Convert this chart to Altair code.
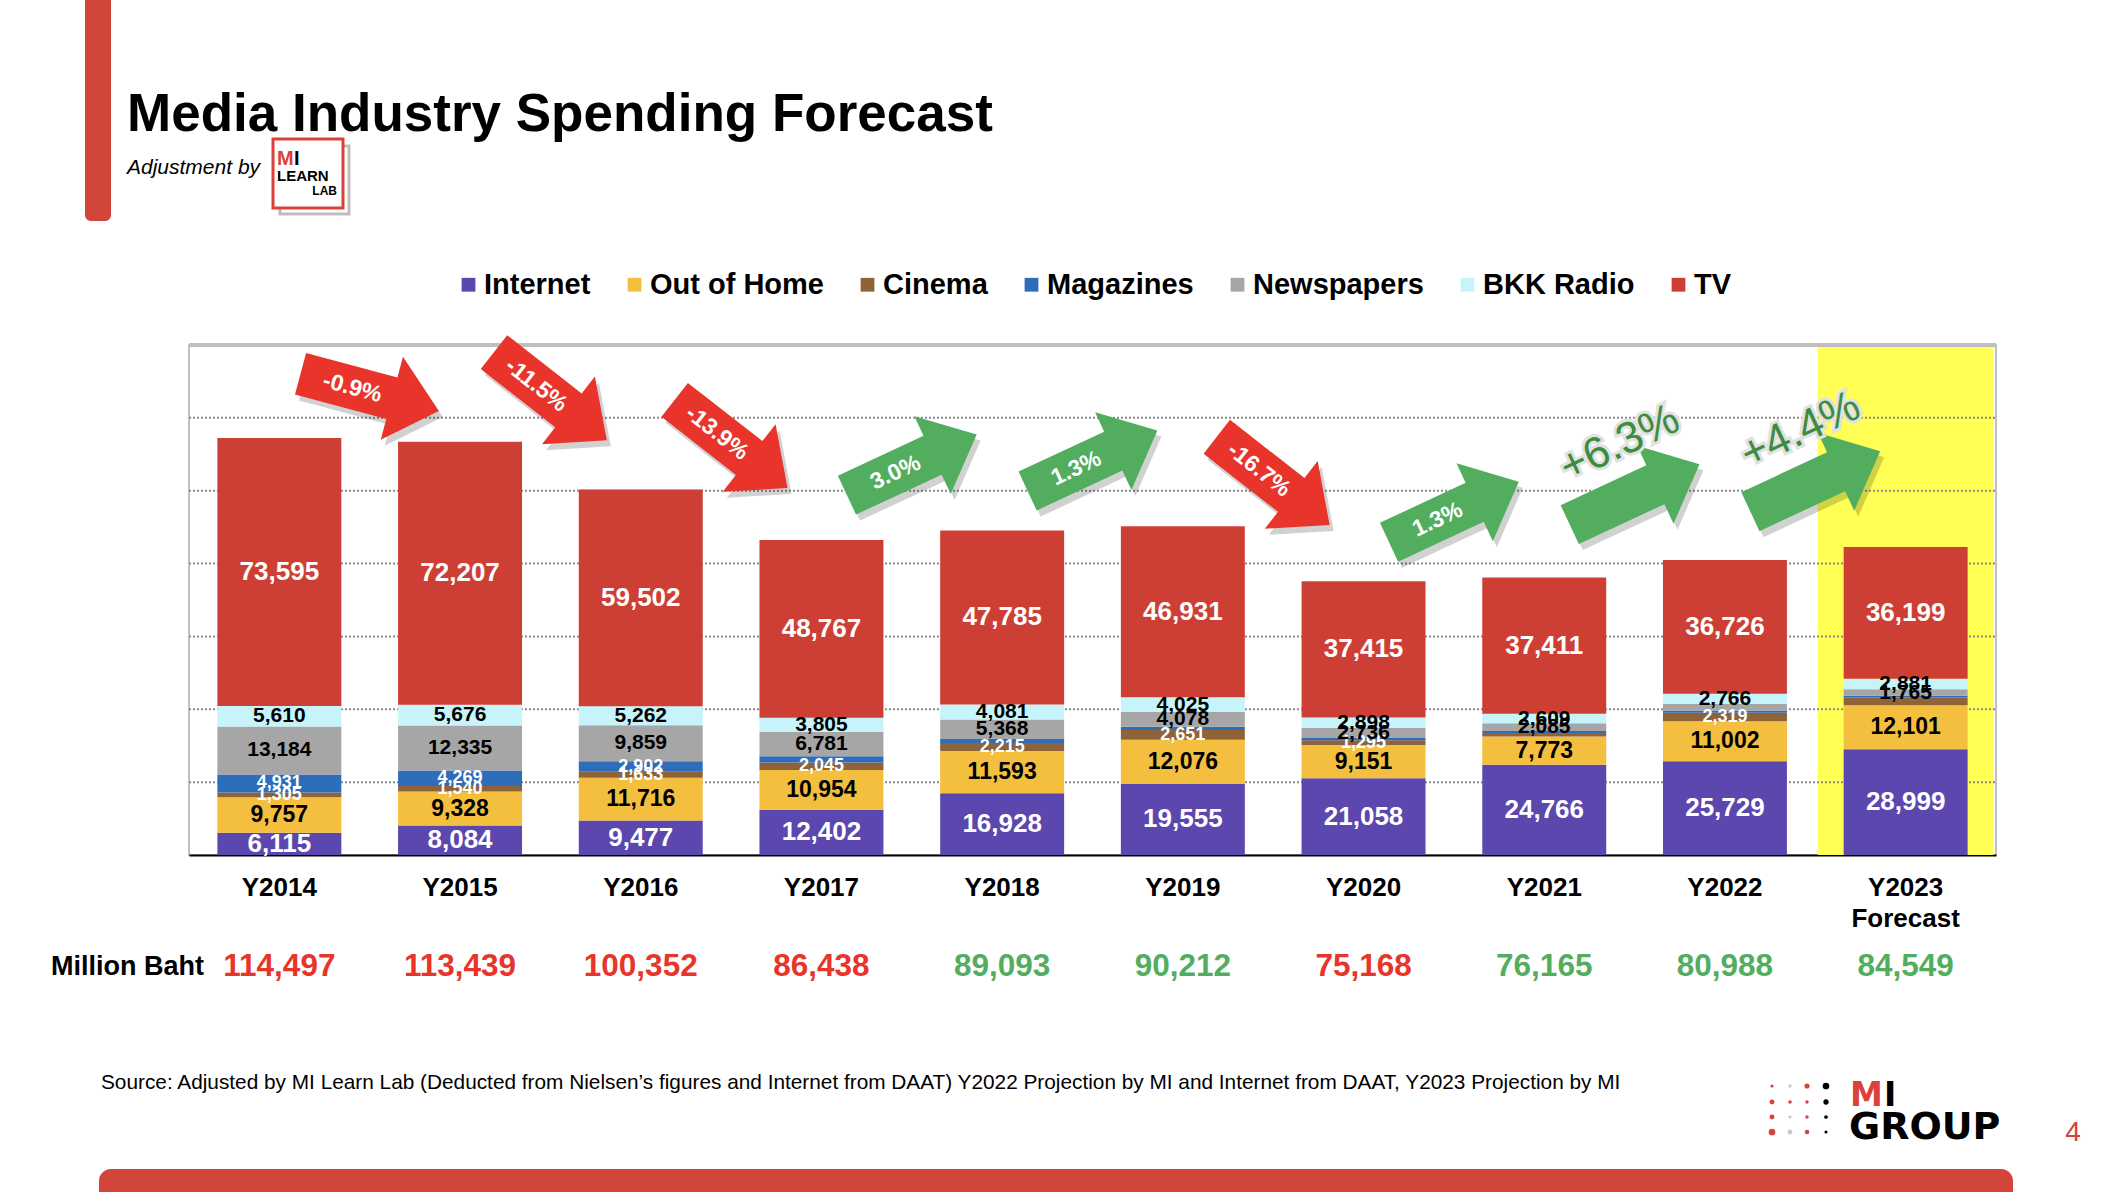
import altair as alt
import pandas as pd

# ---------------- data ----------------
years = ["Y2014", "Y2015", "Y2016", "Y2017", "Y2018", "Y2019", "Y2020", "Y2021", "Y2022", "Y2023"]
series = ["Internet", "Out of Home", "Cinema", "Magazines", "Newspapers", "BKK Radio", "TV"]
internet = [6115, 8084, 9477, 12402, 16928, 19555, 21058, 24766, 25729, 28999]
out_of_home = [9757, 9328, 11716, 10954, 11593, 12076, 9151, 7773, 11002, 12101]
cinema = [1305, 1540, 1633, 2045, 2215, 2651, 1295, 960, 2319, 2150]
magazines = [4931, 4269, 2902, 1684, 1123, 896, 615, 561, 546, 454]
newspapers = [13184, 12335, 9859, 6781, 5368, 4078, 2736, 2085, 1900, 1765]
bkk_radio = [5610, 5676, 5262, 3805, 4081, 4025, 2898, 2609, 2766, 2881]
tv = [73595, 72207, 59502, 48767, 47785, 46931, 37415, 37411, 36726, 36199]
totals = [114497, 113439, 100352, 86438, 89093, 90212, 75168, 76165, 80988, 84549]
change_labels = ["-0.9%", "-11.5%", "-13.9%", "3.0%", "1.3%", "-16.7%", "1.3%", "+6.3%", "+4.4%"]
# segments whose value is not printed in the original
unlabeled = [("Magazines", "Y2017"), ("Magazines", "Y2018"), ("Magazines", "Y2019"),
             ("Magazines", "Y2020"), ("Magazines", "Y2021"), ("Magazines", "Y2022"),
             ("Magazines", "Y2023"), ("Cinema", "Y2021"), ("Cinema", "Y2023"),
             ("Newspapers", "Y2022")]
grid_values = list(range(20000, 140000, 20000))

# ---------------- styles ----------------
FONT = "Liberation Sans"
colors = ["#5B47AD", "#F4BE3F", "#8E6339", "#2E6DBA", "#A6A6A6", "#C7F4FA", "#CD3F34"]
label_colors = {"Internet": "white", "Out of Home": "black", "Cinema": "white", "Magazines": "white",
                "Newspapers": "black", "BKK Radio": "black", "TV": "white"}
label_sizes = {"Internet": 26, "Out of Home": 23, "Cinema": 18, "Magazines": 18,
               "Newspapers": 21, "BKK Radio": 21, "TV": 26}
RED = "#E8342A"
GREEN = "#52AE5E"
W, H = 1807, 510
P_INNER, P_OUTER = 0.314, 0.157
HALF_GAP = P_INNER * W / (len(years) - P_INNER + 2 * P_OUTER) / 2

values = {"Internet": internet, "Out of Home": out_of_home, "Cinema": cinema, "Magazines": magazines,
          "Newspapers": newspapers, "BKK Radio": bkk_radio, "TV": tv}

rows = []
for i, yr in enumerate(years):
    base = 0
    for s in series:
        v = values[s][i]
        rows.append({"year": yr, "series": s, "value": v, "y0": base, "y1": base + v,
                     "mid": base + v / 2,
                     "label": "" if (s, yr) in unlabeled else f"{v:,}",
                     "lblcolor": label_colors[s], "lblsize": label_sizes[s]})
        base += v
seg = pd.DataFrame(rows)

tot = pd.DataFrame({"year": years, "total": totals})
tot["tcolor"] = [RED] + [GREEN if totals[i] > totals[i - 1] else RED for i in range(1, len(totals))]

arr_rows = []
for i, lab in enumerate(change_labels):
    up = totals[i + 1] > totals[i]
    pct = (totals[i + 1] / totals[i] - 1) * 100
    if up:
        ang = 335
    else:
        ang = 15 if abs(pct) < 5 else 38
    arr_rows.append({"year": years[i], "label": lab,
                     "ay": max(totals[i], totals[i + 1]) + (18000 if up else 12500),
                     "angle": ang, "acolor": GREEN if up else RED,
                     "outside": lab.startswith("+")})
arr = pd.DataFrame(arr_rows)

ARROW = "M-1,-0.3L0.32,-0.3L0.32,-0.6L1,0L0.32,0.6L0.32,0.3L-1,0.3Z"

xscale = alt.Scale(domain=years, paddingInner=P_INNER, paddingOuter=P_OUTER)
X = alt.X("year:N", scale=xscale, title=None,
          axis=alt.Axis(labelFont=FONT, labelFontSize=26, labelFontWeight="bold", labelColor="black",
                        labelPadding=19, ticks=False, domainColor="black", domainWidth=2,
                        labelAngle=0, labelLineHeight=31,
                        labelExpr=f"datum.value == '{years[-1]}' ? ['{years[-1]}', 'Forecast'] : datum.value"))
XB = alt.X("year:N", scale=xscale, title=None, bandPosition=1)
yscale = alt.Scale(domain=[0, 140000], nice=False, zero=True)

# highlight of forecast year
highlight = alt.Chart(tot.tail(1)).mark_bar(color="#FFFF55", width=alt.RelativeBandSize(1.42)).encode(
    x=X, y=alt.value(0), y2=alt.value(H))

grid = alt.Chart(pd.DataFrame({"g": grid_values})).mark_rule(
    color="#8A8A8A", strokeDash=[2, 2], strokeWidth=2).encode(
    y=alt.Y("g:Q", scale=yscale, axis=None), x=alt.value(0), x2=alt.value(W))

bars = alt.Chart(seg).mark_bar().encode(
    x=X,
    y=alt.Y("y0:Q", scale=yscale, axis=None),
    y2="y1:Q",
    color=alt.Color("series:N", scale=alt.Scale(domain=series, range=colors),
                    legend=alt.Legend(orient="none", legendX=265, legendY=-75, direction="horizontal",
                                      title=None, labelFont=FONT, labelFontSize=29, labelFontWeight="bold",
                                      labelColor="black", symbolType="square", symbolSize=190,
                                      columnPadding=29, labelOffset=1, symbolStrokeWidth=0,
                                      labelLimit=0)),
)

labels = alt.Chart(seg[seg["label"] != ""]).mark_text(font=FONT, fontWeight="bold", baseline="middle").encode(
    x=X, y=alt.Y("mid:Q", scale=yscale),
    text="label:N",
    color=alt.Color("lblcolor:N", scale=None),
    size=alt.Size("lblsize:Q", scale=None),
)

top_line = alt.Chart(tot.head(1)).mark_rule(color="#BFBFBF", strokeWidth=4).encode(
    x=alt.value(0), x2=alt.value(W), y=alt.value(0))

arrow_shadow = alt.Chart(arr).mark_point(shape=ARROW, filled=True, color="black", opacity=0.18,
                                         strokeWidth=0, xOffset=HALF_GAP + 4, yOffset=6).encode(
    x=XB, y=alt.Y("ay:Q", scale=yscale), angle=alt.Angle("angle:Q", scale=None), size=alt.value(20500))
arrows = alt.Chart(arr).mark_point(shape=ARROW, filled=True, opacity=1, strokeWidth=0,
                                   xOffset=HALF_GAP).encode(
    x=XB, y=alt.Y("ay:Q", scale=yscale), angle=alt.Angle("angle:Q", scale=None),
    color=alt.Color("acolor:N", scale=None), size=alt.value(20500))
arrow_text = alt.Chart(arr[~arr["outside"]]).mark_text(
    font=FONT, fontWeight="bold", fontSize=23, color="white", dx=-18, baseline="middle",
    xOffset=HALF_GAP).encode(
    x=XB, y=alt.Y("ay:Q", scale=yscale), angle=alt.Angle("angle:Q", scale=None), text="label:N")
out_halo = alt.Chart(arr[arr["outside"]]).mark_text(
    font=FONT, fontSize=44, color="#3E8C40", stroke="#E2E2E2", strokeWidth=6, dx=8, dy=-52,
    baseline="middle", xOffset=HALF_GAP).encode(
    x=XB, y=alt.Y("ay:Q", scale=yscale), angle=alt.Angle("angle:Q", scale=None), text="label:N")
out_text = alt.Chart(arr[arr["outside"]]).mark_text(
    font=FONT, fontSize=44, color="#3E8C40", dx=8, dy=-52, baseline="middle", xOffset=HALF_GAP).encode(
    x=XB, y=alt.Y("ay:Q", scale=yscale), angle=alt.Angle("angle:Q", scale=None), text="label:N")

total_text = alt.Chart(tot).mark_text(font=FONT, fontWeight="bold", fontSize=31.5, baseline="middle").encode(
    x=X, y=alt.value(H + 112), text=alt.Text("total:Q", format=","), color=alt.Color("tcolor:N", scale=None))

one = pd.DataFrame({"a": [0]})


def txt(text, x, y, **kw):
    return alt.Chart(one).mark_text(text=text, font=kw.pop("font", FONT), **kw).encode(
        x=alt.value(x), y=alt.value(y))


def box(x, y, x2, y2, **kw):
    return alt.Chart(one).mark_rect(**kw).encode(x=alt.value(x), y=alt.value(y), x2=alt.value(x2), y2=alt.value(y2))


decor = [
    box(-104, -345, -78, -124, color="#D1453B", cornerRadiusBottomLeft=6, cornerRadiusBottomRight=6),
    box(-90, 824, 1824, 870, color="#D1453B", cornerRadiusTopLeft=12, cornerRadiusTopRight=12),
    txt("Media Industry Spending Forecast", -62, -214, fontSize=53, fontWeight="bold", align="left",
        baseline="alphabetic", color="black"),
    txt("Adjustment by", -62, -177, fontSize=21, fontStyle="italic", align="left", baseline="middle",
        color="black"),
    box(91, -199, 160, -131, fill="white", stroke="#BDBDBD", strokeWidth=3),
    box(84, -206, 154, -137, fill="white", stroke="#D9413A", strokeWidth=3),
    txt("M", 88, -180, fontSize=20, fontWeight="bold", align="left", baseline="alphabetic", color="#D9413A"),
    txt("I", 105, -180, fontSize=20, fontWeight="bold", align="left", baseline="alphabetic", color="black"),
    txt("LEARN", 88, -164, fontSize=15, fontWeight="bold", align="left", baseline="alphabetic", color="black"),
    txt("LAB", 148, -150, fontSize=12, fontWeight="bold", align="right", baseline="alphabetic", color="black"),
    txt("Million Baht", -138, H + 112, fontSize=27, fontWeight="bold", align="left", baseline="middle",
        color="black"),
    txt("Source: Adjusted by MI Learn Lab (Deducted  from Nielsen\u2019s figures and Internet from DAAT) "
        "Y2022 Projection by MI and Internet from DAAT, Y2023 Projection by MI",
        -88, 738, fontSize=20.8, align="left", baseline="middle", color="black"),
    txt("M", 1661, 761, font="DejaVu Sans", fontSize=33, fontWeight="bold", align="left",
        baseline="alphabetic", color="#D9413A"),
    txt("I", 1695, 761, font="DejaVu Sans", fontSize=33, fontWeight="bold", align="left",
        baseline="alphabetic", color="black"),
    txt("GROUP", 1660, 794, font="DejaVu Sans", fontSize=38, fontWeight="bold", align="left",
        baseline="alphabetic", color="black"),
    txt("4", 1884, 788, fontSize=28, align="center", baseline="middle", color="#D9413A"),
]

dot_cols = [1583, 1601, 1618, 1637]
dot_rows = [741, 757, 772, 787]
dot_style = [
    [("#D9413A", 10), ("#C8C8C8", 12), ("#D9413A", 26), ("black", 45)],
    [("#D9413A", 24), ("#D9413A", 12), ("#D9413A", 12), ("black", 28)],
    [("#D9413A", 24), ("#C8C8C8", 10), ("#D9413A", 12), ("black", 14)],
    [("#D9413A", 45), ("#C8C8C8", 24), ("#D9413A", 22), ("black", 10)],
]
for r, yy in enumerate(dot_rows):
    for c, xx in enumerate(dot_cols):
        col, sz = dot_style[r][c]
        decor.append(alt.Chart(one).mark_circle(color=col, size=sz, opacity=1).encode(
            x=alt.value(xx), y=alt.value(yy)))

chart = alt.layer(
    highlight, grid, bars, labels, top_line, arrow_shadow, arrows, arrow_text, out_halo, out_text,
    total_text, *decor
).properties(
    width=W, height=H,
    padding={"left": 189, "top": 345, "right": 122, "bottom": 337},
    autosize=alt.AutoSizeParams(type="none"),
    background="white",
).configure_view(stroke="#BFBFBF", strokeWidth=2)

chart.save("out.html", embed_options={"renderer": "svg", "actions": False})
